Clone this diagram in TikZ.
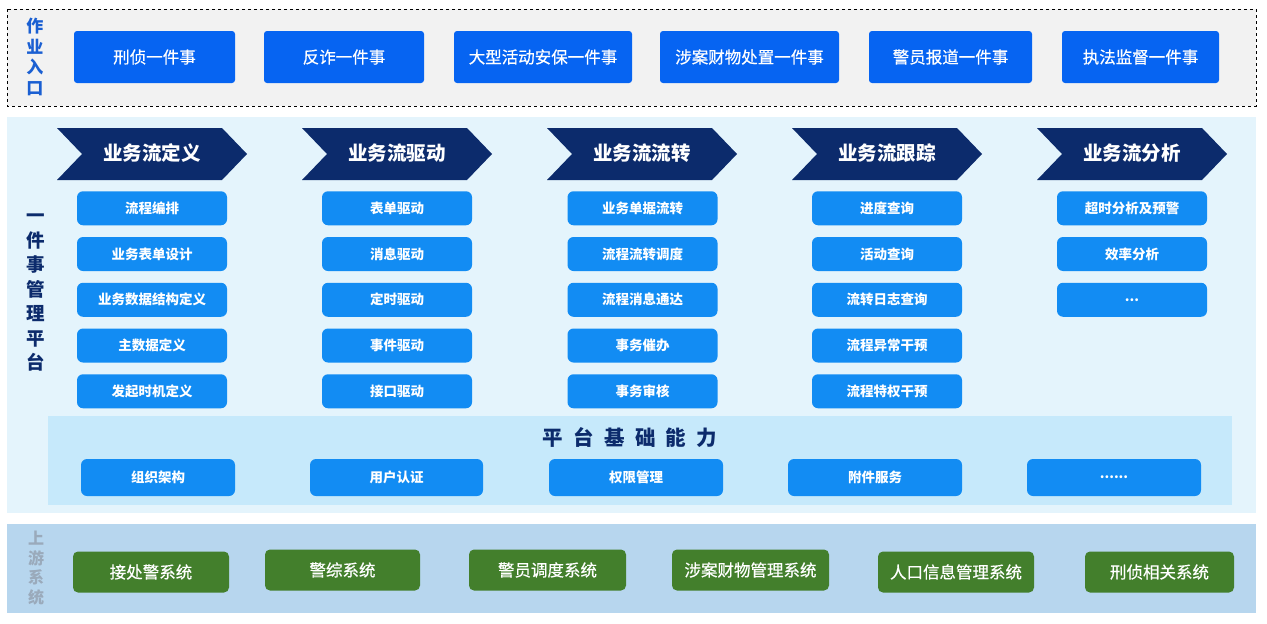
\documentclass[tikz,border=0pt]{standalone}
\usepackage{fontspec}
\setmainfont{Noto Sans CJK SC}
\newfontfamily\medfont[FakeBold=0.5]{Noto Sans CJK SC}
\usetikzlibrary{positioning,calc}
\definecolor{topbg}{HTML}{F2F2F2}
\definecolor{topbtn}{HTML}{0664F2}
\definecolor{mainbg}{HTML}{E4F4FC}
\definecolor{basebg}{HTML}{C6E9FB}
\definecolor{navy}{HTML}{0C2B6C}
\definecolor{itemblue}{HTML}{128CF3}
\definecolor{upbg}{HTML}{B7D6EE}
\definecolor{green}{HTML}{437F2C}
\definecolor{graylab}{HTML}{9AAABB}
\definecolor{toplab}{HTML}{1A5FD2}
\tikzset{
  topbox/.style={fill=topbtn, rounded corners=3pt, text=white, font=\fontsize{16.5}{19}\medfont, inner sep=0pt},
  itembox/.style={fill=itemblue, rounded corners=6pt, text=white, font=\fontsize{13.5}{16}\selectfont\bfseries, inner sep=0pt, minimum width=150pt, minimum height=34pt},
  basebox/.style={fill=itemblue, rounded corners=6pt, text=white, font=\fontsize{13.5}{16}\selectfont\bfseries, inner sep=0pt, minimum height=37pt},
  upbox/.style={fill=green, rounded corners=5pt, text=white, font=\fontsize{16.5}{19}\medfont, inner sep=0pt, minimum height=41pt},
  chevtext/.style={text=white, font=\fontsize{19.5}{22}\selectfont\bfseries, inner sep=0pt},
}
\begin{document}
\begin{tikzpicture}[x=1pt,y=-1pt]
\useasboundingbox (0,0) rectangle (1267,624);
\fill[white] (0,0) rectangle (1267,624);
% top area
\draw[fill=topbg, dashed, line width=0.9pt] (7,9) rectangle (1256,106);
\node[text=toplab, align=center, inner sep=0pt, font=\fontsize{17}{20.5}\selectfont\bfseries] (toplab) at (35,57) {作\\业\\入\\口};
\node[topbox, minimum width=161pt, minimum height=52pt] (t1) at (154.5,57) {刑侦一件事};
\node[topbox, minimum width=160pt, minimum height=52pt] (t2) at (344,57) {反诈一件事};
\node[topbox, minimum width=178pt, minimum height=52pt] (t3) at (543,57) {大型活动安保一件事};
\node[topbox, minimum width=179pt, minimum height=52pt] (t4) at (749.5,57) {涉案财物处置一件事};
\node[topbox, minimum width=163pt, minimum height=52pt] (t5) at (950.5,57) {警员报道一件事};
\node[topbox, minimum width=157pt, minimum height=52pt] (t6) at (1140.5,57) {执法监督一件事};
% main platform
\fill[mainbg] (7,117) rectangle (1256,513);
\node[text=navy, align=center, inner sep=0pt, font=\fontsize{18.5}{24.5}\selectfont\bfseries] (mainlab) at (36,293) {一\\件\\事\\管\\理\\平\\台};
% chevrons
\foreach \i/\x/\t in {1/57/业务流定义,2/302/业务流驱动,3/547/业务流流转,4/792/业务流跟踪,5/1037/业务流分析}{
  \fill[navy] (\x,128) -- (\x+165,128) -- (\x+190,154) -- (\x+165,180) -- (\x,180) -- (\x+25,154) -- cycle;
  \node[chevtext] (c\i) at (\x+95,153.5) {\t};
}
% column items
\foreach \i/\x in {1/152,2/397,3/642.5,4/887,5/1132}{
  \coordinate (col\i) at (\x,0);
}
\foreach \j/\t in {1/流程编排,2/业务表单设计,3/业务数据结构定义,4/主数据定义,5/发起时机定义}{
  \node[itembox] (a\j) at ($(col1)+(0,162.5+45.75*\j)$) {\t};
}
\foreach \j/\t in {1/表单驱动,2/消息驱动,3/定时驱动,4/事件驱动,5/接口驱动}{
  \node[itembox] (b\j) at ($(col2)+(0,162.5+45.75*\j)$) {\t};
}
\foreach \j/\t in {1/业务单据流转,2/流程流转调度,3/流程消息通达,4/事务催办,5/事务审核}{
  \node[itembox] (d\j) at ($(col3)+(0,162.5+45.75*\j)$) {\t};
}
\foreach \j/\t in {1/进度查询,2/活动查询,3/流转日志查询,4/流程异常干预,5/流程特权干预}{
  \node[itembox] (e\j) at ($(col4)+(0,162.5+45.75*\j)$) {\t};
}
\node[itembox] (f1) at ($(col5)+(0,208.25)$) {超时分析及预警};
\node[itembox] (f2) at ($(col5)+(0,254)$) {效率分析};
\node[itembox] (f3) at ($(col5)+(0,299.75)$) {...};
% base
\fill[basebg] (48,416) rectangle (1232,505);
\node[text=navy, inner sep=0pt, font=\fontsize{20.5}{24}\selectfont\bfseries] (basetitle) at (630,438) {平\hspace{0.5em}台\hspace{0.5em}基\hspace{0.5em}础\hspace{0.5em}能\hspace{0.5em}力};
\node[basebox, minimum width=154pt] (g1) at (158,477.5) {组织架构};
\node[basebox, minimum width=173pt] (g2) at (396.5,477.5) {用户认证};
\node[basebox, minimum width=174pt] (g3) at (636,477.5) {权限管理};
\node[basebox, minimum width=174pt] (g4) at (875,477.5) {附件服务};
\node[basebox, minimum width=174pt] (g5) at (1114,477.5) {......};
% upstream
\fill[upbg] (7,524) rectangle (1256,613);
\node[text=graylab, align=center, inner sep=0pt, font=\fontsize{16}{19.5}\selectfont\bfseries] (uplab) at (36,568) {上\\游\\系\\统};
\node[upbox, minimum width=156pt] (u1) at (151,572) {接处警系统};
\node[upbox, minimum width=155pt] (u2) at (342.5,570) {警综系统};
\node[upbox, minimum width=157pt] (u3) at (547.5,570) {警员调度系统};
\node[upbox, minimum width=157pt] (u4) at (750.5,570) {涉案财物管理系统};
\node[upbox, minimum width=156pt] (u5) at (956,572) {人口信息管理系统};
\node[upbox, minimum width=149pt] (u6) at (1159.5,572) {刑侦相关系统};
\end{tikzpicture}
\end{document}
